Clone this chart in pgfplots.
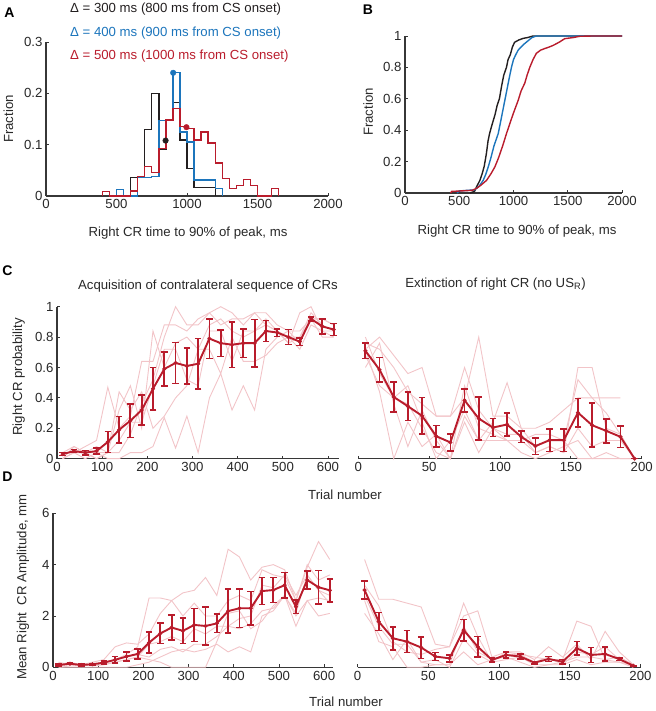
\documentclass[border=0pt]{standalone}
\usepackage{fontspec}
\setmainfont{Liberation Sans}
\usepackage{pgfplots}
\usepackage{pgfplotstable}
\pgfplotsset{compat=1.18}
\definecolor{cblk}{RGB}{35,31,32}
\definecolor{cblu}{RGB}{28,117,188}
\definecolor{cred}{RGB}{185,28,44}
\definecolor{cpink}{RGB}{242,196,200}
\definecolor{axc}{RGB}{55,55,55}
\definecolor{txc}{RGB}{40,40,40}
\newcommand{\fs}{\fontsize{13.2}{15.8}\selectfont}

\pgfplotstableread{
x a1 a2 a3 a4 a5 a6 m e
12.5 0.00 0.00 0.04 0.04 0.00 0.04 0.03 0.01
37.5 0.04 0.08 0.04 0.04 0.04 0.08 0.05 0.01
62.5 0.08 0.04 0.00 0.04 0.04 0.04 0.04 0.015
87.5 0.12 0.00 0.04 0.08 0.04 0.00 0.05 0.02
112.5 0.47 0.04 0.04 0.04 0.00 0.04 0.11 0.07
137.5 0.20 0.32 0.04 0.12 0.00 0.44 0.19 0.088
162.5 0.28 0.48 0.16 0.24 0.04 0.32 0.25 0.11
187.5 0.64 0.20 0.36 0.24 0.04 0.44 0.32 0.10
212.5 0.64 0.84 0.52 0.48 0.08 0.20 0.46 0.14
237.5 0.88 0.60 0.80 0.72 0.27 0.28 0.59 0.11
262.5 0.88 0.76 1.00 0.72 0.07 0.40 0.63 0.135
287.5 0.84 0.80 0.88 0.52 0.28 0.48 0.61 0.12
312.5 0.92 0.72 0.88 0.48 0.04 0.72 0.625 0.165
337.5 0.96 0.88 0.96 0.84 0.40 0.72 0.79 0.13
362.5 0.88 0.92 1.00 0.84 0.56 0.56 0.76 0.087
387.5 0.92 0.84 0.96 0.64 0.32 0.80 0.75 0.15
412.5 0.92 0.80 0.88 0.84 0.48 0.64 0.76 0.095
437.5 0.96 0.84 0.96 0.84 0.32 0.64 0.76 0.155
462.5 0.96 0.88 0.88 0.92 0.72 0.68 0.84 0.068
487.5 0.88 0.84 0.84 0.84 0.80 0.76 0.83 0.025
512.5 0.84 0.76 0.76 0.80 0.84 0.80 0.80 0.05
537.5 0.84 0.80 0.96 0.80 0.76 0.72 0.77 0.025
562.5 0.92 0.96 1.00 0.92 0.92 0.88 0.92 0.013
587.5 0.92 0.88 0.84 0.92 0.80 0.84 0.87 0.05
612.5 0.88 0.84 0.80 0.88 0.80 0.84 0.85 0.04
}\tabCL

\pgfplotstableread{
x b1 b2 b3 b4 b5 b6 m e
5 0.76 0.72 0.68 0.60 0.80 0.72 0.71 0.05
15 0.72 0.80 0.48 0.76 0.56 0.44 0.585 0.08
25 0.60 0.68 0.40 0.36 0.40 0.00 0.406 0.10
35 0.44 0.56 0.48 0.08 0.36 0.24 0.345 0.094
45 0.36 0.60 0.24 0.32 0.20 0.08 0.282 0.12
55 0.28 0.28 0.00 0.12 0.04 0.16 0.148 0.07
65 0.28 0.28 0.12 0.00 0.00 0.00 0.107 0.055
75 0.60 0.40 0.32 0.48 0.28 0.24 0.384 0.076
85 0.32 0.80 0.12 0.20 0.12 0.04 0.264 0.14
95 0.20 0.28 0.24 0.16 0.12 0.20 0.205 0.06
105 0.16 0.28 0.50 0.12 0.12 0.12 0.225 0.076
115 0.16 0.20 0.20 0.12 0.04 0.12 0.144 0.038
125 0.04 0.20 0.08 0.04 0.00 0.16 0.083 0.055
135 0.08 0.24 0.12 0.08 0.04 0.16 0.122 0.074
145 0.04 0.32 0.12 0.04 0.08 0.12 0.122 0.074
155 0.60 0.40 0.52 0.20 0.12 0.00 0.303 0.093
165 0.60 0.40 0.40 0.08 0.00 0.00 0.22 0.145
175 0.20 0.40 0.30 0.12 0.04 0.00 0.183 0.08
185 0.16 0.40 0.16 0.12 0.00 0.00 0.144 0.07
195 0.00 nan 0.00 0.00 0.00 0.00 0.00 0.0
}\tabCR

\pgfplotstableread{
x d1 d2 d3 d4 d5 d6 m e
12.5 0.1 0.2 0.05 0.1 0.0 0.0 0.09 0.03
37.5 0.1 0.1 0.1 0.2 0.0 0.05 0.14 0.03
62.5 0.05 0.1 0.1 0.1 0.0 0.05 0.09 0.03
87.5 0.1 0.2 0.05 0.1 0.0 0.1 0.12 0.03
112.5 0.2 0.3 0.1 0.2 0.0 0.1 0.18 0.06
137.5 0.3 0.8 0.2 0.3 0.0 0.2 0.29 0.13
162.5 0.5 0.95 0.3 0.4 0.0 0.3 0.42 0.17
187.5 0.8 0.9 0.4 0.5 0.1 0.4 0.52 0.19
212.5 2.7 1.3 0.9 0.4 0.2 0.3 0.96 0.41
237.5 2.7 2.1 1.0 0.7 0.4 0.2 1.32 0.40
262.5 2.6 2.6 1.2 0.8 0.6 0.0 1.55 0.49
287.5 2.9 2.0 1.0 0.6 0.7 0.0 1.42 0.49
312.5 3.0 2.5 1.5 0.9 0.6 0.0 1.65 0.64
337.5 3.5 2.0 1.3 0.9 0.7 0.0 1.61 0.75
362.5 2.8 2.0 1.6 1.2 0.9 1.0 1.71 0.36
387.5 4.6 2.6 1.6 1.6 0.6 2.1 2.19 0.86
412.5 4.3 2.8 1.9 1.5 0.8 2.2 2.30 0.75
437.5 3.4 2.6 2.0 1.7 0.6 1.5 2.30 0.65
462.5 3.9 3.8 3.2 2.2 2.0 1.8 2.97 0.53
487.5 4.0 3.6 3.1 2.3 2.2 2.4 3.01 0.49
512.5 3.8 3.5 3.6 2.8 2.8 2.8 3.20 0.50
537.5 2.6 2.6 2.8 2.0 1.6 2.1 2.36 0.27
562.5 3.9 4.0 3.6 2.6 2.6 3.6 3.40 0.36
587.5 4.9 3.4 3.0 2.7 2.0 3.0 3.12 0.65
612.5 4.2 3.6 2.8 2.6 2.1 2.5 3.00 0.45
}\tabDL

\pgfplotstableread{
x e1 e2 e3 e4 e5 m e
5 4.2 3.2 2.8 2.1 2.6 3.01 0.35
15 2.65 2.4 1.6 1.3 1.0 1.78 0.35
25 2.65 1.0 0.9 0.3 0.8 1.13 0.45
35 2.5 0.6 0.9 1.1 0.0 1.00 0.43
45 2.35 0.5 0.2 0.2 0.0 0.77 0.42
55 0.9 0.7 0.1 0.3 0.1 0.42 0.16
65 0.8 0.8 0.1 0.0 0.1 0.35 0.14
75 2.0 2.5 1.6 1.1 0.6 1.45 0.42
85 2.2 1.2 0.6 0.5 0.1 0.80 0.40
95 0.4 0.2 0.3 0.2 0.3 0.29 0.08
105 0.6 0.6 0.5 0.3 0.4 0.48 0.12
115 0.5 0.6 0.5 0.4 0.2 0.42 0.10
125 0.4 0.3 0.2 0.1 0.0 0.18 0.05
135 0.3 0.8 0.4 0.1 0.1 0.32 0.10
145 0.3 0.4 0.1 0.2 0.1 0.22 0.08
155 1.8 0.9 0.6 0.4 0.3 0.74 0.26
165 1.6 0.3 0.5 0.4 0.1 0.48 0.29
175 0.3 1.4 0.8 0.3 0.2 0.52 0.28
185 0.2 0.6 0.3 0.4 0.2 0.32 0.05
195 0.0 0.1 0.0 0.1 0.1 0.06 0.0
}\tabDR

\pgfplotsset{
  myax/.style={
    scale only axis, anchor=south west,
    axis x line*=bottom, axis y line*=left,
    axis line style={draw=axc, line width=1.1pt, -},
    tick align=inside, major tick length=3pt,
    tick style={draw=axc, line width=0.9pt},
    ticklabel style={font=\fs, text=txc},
    /pgf/number format/assume math mode=true,
    /pgf/number format/1000 sep={},
    label style={font=\fs, text=txc},
    clip=false,
  },
  indiv/.style={cpink, line width=0.9pt, no markers},
  meanl/.style={color=cred, line width=1.9pt, mark=*, mark size=1.8pt,
    mark options={fill=cred, draw=cred, line width=0.5pt}},
  ebar/.style={error bars/.cd, y dir=both, y explicit,
    error bar style={line width=1.8pt, color=cred},
    error mark options={rotate=90, line width=1.6pt, color=cred, mark size=3.3pt}},
}

\begin{document}
\begin{tikzpicture}
\path[use as bounding box] (0pt,0pt) rectangle (655pt,711pt);

% ---------- A ----------
\begin{axis}[myax, at={(46pt,515pt)}, width=282pt, height=154pt,
  xmin=0, xmax=2000, ymin=0, ymax=0.3,
  xtick={0,500,1000,1500,2000}, ytick={0,0.1,0.2,0.3},
  yticklabels={0,0.1,0.2,0.3},
  xlabel={Right CR time to 90\% of peak, ms}, ylabel={Fraction},
  xlabel style={at={(axis description cs:0.5035,-0.240)}, anchor=center},
  ylabel style={at={(axis description cs:-0.133,0.5)}, anchor=center}]
\addplot[cblk, line width=1.4pt, const plot, no markers] coordinates {
 (600,0) (600,0.036) (650,0.036) (700,0.129) (750,0.2) (800,0.091) (850,0.148)
 (900,0.182) (950,0.109) (1000,0.054) (1050,0.016) (1100,0.016) (1150,0.016) (1200,0)};
\addplot[cblu, line width=1.4pt, const plot, no markers] coordinates {
 (500,0) (500,0.013) (550,0) (650,0.036) (700,0.036) (750,0.038) (800,0.147)
 (850,0.147) (900,0.24) (950,0.125) (1000,0.105) (1050,0.031) (1100,0.031)
 (1150,0.031) (1200,0.015) (1250,0)};
\addplot[cred, line width=1.4pt, const plot, no markers] coordinates {
 (400,0) (400,0.009) (450,0) (600,0.01) (650,0.038) (700,0.057) (750,0.046)
 (800,0.093) (850,0.148) (900,0.171) (950,0.135) (1000,0.132) (1050,0.109)
 (1100,0.125) (1150,0.103) (1200,0.064) (1250,0.034) (1300,0.015) (1350,0.021)
 (1400,0.032) (1450,0.021) (1500,0) (1600,0.015) (1650,0)};
\addplot[only marks, mark=*, mark size=2.8pt, cblk] coordinates {(848,0.108)};
\addplot[only marks, mark=*, mark size=2.8pt, cblu] coordinates {(902,0.24)};
\addplot[only marks, mark=*, mark size=2.8pt, cred] coordinates {(996,0.134)};
\end{axis}

% ---------- B ----------
\begin{axis}[myax, at={(405pt,518pt)}, width=217pt, height=157pt,
  xmin=0, xmax=2000, ymin=0, ymax=1,
  xtick={0,500,1000,1500,2000}, ytick={0,0.2,0.4,0.6,0.8,1},
  yticklabels={0,0.2,0.4,0.6,0.8,1},
  xlabel={Right CR time to 90\% of peak, ms}, ylabel={Fraction},
  xlabel style={at={(axis description cs:0.516,-0.242)}, anchor=center},
  ylabel style={at={(axis description cs:-0.17,0.516)}, anchor=center}]
\addplot[cblk, line width=1.4pt, no markers] coordinates {
 (600,0) (640,0.01) (660,0.04) (690,0.08) (710,0.12) (730,0.17) (750,0.25)
 (765,0.33) (780,0.38) (800,0.43) (830,0.5) (850,0.56) (870,0.6) (890,0.68)
 (910,0.75) (935,0.8) (950,0.85) (970,0.88) (990,0.93) (1010,0.96) (1050,0.975)
 (1090,0.985) (1130,0.99) (1180,1.0) (2000,1.0)};
\addplot[cblu, line width=1.4pt, no markers] coordinates {
 (480,0) (500,0.013) (640,0.02) (680,0.04) (720,0.08) (745,0.12) (767,0.166)
 (790,0.22) (820,0.3) (840,0.34) (859,0.378) (880,0.45) (900,0.52) (920,0.59)
 (940,0.66) (960,0.73) (981,0.8) (1000,0.85) (1020,0.88) (1043,0.91) (1070,0.93)
 (1100,0.95) (1135,0.97) (1170,0.99) (1211,1.0) (2000,1.0)};
\addplot[cred, line width=1.4pt, no markers] coordinates {
 (420,0) (430,0.01) (620,0.017) (660,0.03) (700,0.05) (751,0.08) (790,0.12)
 (828,0.166) (860,0.22) (900,0.3) (935,0.378) (970,0.45) (1000,0.51) (1043,0.59)
 (1070,0.65) (1104,0.7) (1125,0.75) (1150,0.8) (1180,0.85) (1211,0.89) (1250,0.91)
 (1288,0.92) (1330,0.93) (1365,0.94) (1420,0.96) (1472,0.983) (1550,0.99)
 (1610,0.998) (1733,1.0) (2000,1.0)};
\end{axis}

% ---------- C left ----------
\begin{axis}[myax, at={(57pt,252.3pt)}, width=282.3pt, height=152pt,
  xmin=0, xmax=625, ymin=0, ymax=1,
  xtick={0,100,...,600}, ytick={0,0.2,0.4,0.6,0.8,1},
  yticklabels={0,0.2,0.4,0.6,0.8,1},
  ylabel={Right CR probability},
  ylabel style={at={(axis description cs:-0.136,0.5375)}, anchor=center}]
\foreach \c in {a1,a2,a3,a4,a5,a6}{\addplot[indiv] table[x=x,y=\c] {\tabCL};}
\addplot[meanl, ebar] table[x=x,y=m,y error=e] {\tabCL};
\end{axis}

% ---------- C right ----------
\begin{axis}[myax, at={(358.3pt,252.3pt)}, width=283.4pt, height=152pt,
  xmin=0, xmax=200, ymin=0, ymax=1,
  xtick={0,50,...,200}, axis y line=none, ytick=\empty]
\foreach \c in {b1,b2,b3,b4,b5,b6}{\addplot[indiv] table[x=x,y=\c] {\tabCR};}
\addplot[meanl, ebar] table[x=x,y=m,y error=e] {\tabCR};
\end{axis}

% ---------- D left ----------
\begin{axis}[myax, at={(53pt,43.7pt)}, width=280.2pt, height=154pt,
  xmin=0, xmax=620, ymin=0, ymax=6,
  xtick={0,100,...,600}, ytick={0,2,4,6},
  ylabel={Mean Right\ \ CR Amplitude, mm},
  ylabel style={at={(axis description cs:-0.107,0.521)}, anchor=center}]
\foreach \c in {d1,d2,d3,d4,d5,d6}{\addplot[indiv] table[x=x,y=\c] {\tabDL};}
\addplot[meanl, ebar] table[x=x,y=m,y error=e] {\tabDL};
\end{axis}

% ---------- D right ----------
\begin{axis}[myax, at={(357.5pt,43.7pt)}, width=283pt, height=154pt,
  xmin=0, xmax=200, ymin=0, ymax=6,
  xtick={0,50,...,200}, axis y line=none, ytick=\empty]
\foreach \c in {e1,e2,e3,e4,e5}{\addplot[indiv] table[x=x,y=\c] {\tabDR};}
\addplot[meanl, ebar] table[x=x,y=m,y error=e] {\tabDR};
\end{axis}

% ---------- texts ----------
\node[anchor=base west, inner sep=0pt, font=\fs, text=cblk] at (70pt,698.3pt) {Δ = 300 ms (800 ms from CS onset)};
\node[anchor=base west, inner sep=0pt, font=\fs, text=cblu] at (70pt,674.3pt) {Δ = 400 ms (900 ms from CS onset)};
\node[anchor=base west, inner sep=0pt, font=\fs, text=cred] at (70pt,651.7pt) {Δ = 500 ms (1000 ms from CS onset)};

\node[anchor=base, inner sep=0pt, font=\fs, text=txc] at (208pt,421pt) {Acquisition of contralateral sequence of CRs};
\node[anchor=base, inner sep=0pt, font=\fs, text=txc] at (495.5pt,423.5pt) {Extinction of right CR (no US\textsubscript{R})};
\node[anchor=base, inner sep=0pt, font=\fs, text=txc] at (345pt,211.5pt) {Trial number};
\node[anchor=base, inner sep=0pt, font=\fs, text=txc] at (346pt,5pt) {Trial number};

\node[font=\fontsize{14}{16}\selectfont\bfseries, text=black] at (9.5pt,698.5pt) {A};
\node[font=\fontsize{14}{16}\selectfont\bfseries, text=black] at (368pt,701.5pt) {B};
\node[font=\fontsize{14}{16}\selectfont\bfseries, text=black] at (7.5pt,440pt) {C};
\node[font=\fontsize{14}{16}\selectfont\bfseries, text=black] at (7.5pt,234pt) {D};
\end{tikzpicture}
\end{document}
